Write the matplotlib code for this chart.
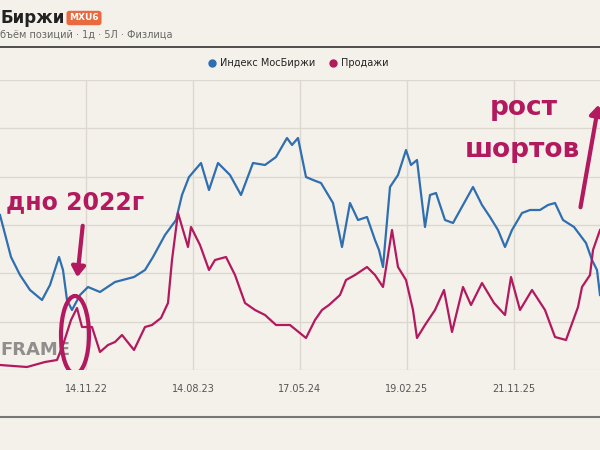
import matplotlib
matplotlib.use("Agg")
import matplotlib.pyplot as plt
from matplotlib.patches import Ellipse
from matplotlib.lines import Line2D

blue_x = [0,11,20,30,42,50,59,63,67,72,80,88,100,115,134,145,153,165,176,182,189,201,209,218,230,241,253,265,276,287,292,298,306,313,321,333,342,350,358,367,375,379,383,390,398,406,411,417,425,430,436,445,453,463,473,482,490,498,505,512,522,530,540,548,555,563,574,586,592,597,600]
blue_v = [155,113,95,80,70,85,113,100,70,60,75,83,78,88,93,100,113,135,150,175,193,207,180,207,195,175,207,205,213,232,225,232,193,190,187,167,123,167,150,153,130,120,103,183,195,220,205,210,143,175,177,150,147,165,183,165,153,140,123,140,157,160,160,165,167,150,143,127,110,100,75]
red_x = [0,27,45,57,63,71,77,82,92,100,108,115,122,134,145,152,161,168,172,178,183,188,191,200,209,215,226,235,245,255,265,276,290,306,315,322,329,340,346,355,367,375,383,392,398,406,413,417,425,435,444,452,463,471,482,494,505,511,520,532,545,555,566,578,582,590,593,600]
red_v = [5,3,8,10,25,50,62,43,43,18,25,28,35,20,43,45,52,67,110,157,140,123,143,125,100,110,113,95,67,60,55,45,45,32,50,60,65,75,90,95,103,95,83,140,103,90,60,32,45,60,80,38,83,65,87,67,55,93,60,80,60,33,30,63,83,95,120,140]
tick_pos = [86,193,300,407,514]
tick_labels = ["14.11.22","14.08.23","17.05.24","19.02.25","21.11.25"]

BG = "#f4f1eb"; BLUE = "#2f6fb0"; RED = "#b3195e"
fig = plt.figure(figsize=(6,4.5), dpi=100, facecolor=BG)
ax = fig.add_axes([0, (450-370)/450, 1, 290/450], facecolor=BG)
ax.plot(blue_x, blue_v, color=BLUE, lw=1.6, zorder=3)
ax.plot(red_x, red_v, color=RED, lw=1.6, zorder=3)
ax.set_xlim(0,600); ax.set_ylim(0,290)
ax.set_xticks(tick_pos); ax.set_xticklabels(tick_labels, fontsize=7, color="#555")
ax.set_yticks([0,48.3,96.7,145,193.3,241.7,290])
ax.tick_params(axis='y', left=False, labelleft=False)
ax.tick_params(axis='x', length=0, pad=10)
ax.grid(True, color="#dcd8d0", lw=1)
for s in ax.spines.values(): s.set_visible(False)

ax.text(0,15,"FRAME",fontsize=13,fontweight="bold",color="#777",alpha=0.8,zorder=2)
ax.text(75,168,"дно 2022г",fontsize=17,fontweight="bold",color=RED,ha="center",va="center",zorder=5)
ax.annotate("",xy=(77,90),xytext=(83,147),arrowprops=dict(arrowstyle="-|>,head_width=0.4,head_length=0.6",color=RED,lw=3),zorder=5)
ax.add_patch(Ellipse((75,35),28,78,fill=False,ec=RED,lw=3,zorder=5))
ax.text(524,262,"рост",fontsize=19,fontweight="bold",color=RED,ha="center",va="center",zorder=5)
ax.text(522,220,"шортов",fontsize=19,fontweight="bold",color=RED,ha="center",va="center",zorder=5)
ax.annotate("",xy=(599,268),xytext=(580,160),arrowprops=dict(arrowstyle="-|>,head_width=0.4,head_length=0.6",color=RED,lw=3),zorder=5)

# header
fig.text(0,1-18/450,"Биржи",fontsize=12,fontweight="bold",color="#222",va="center")
fig.text(84/600,1-18/450,"MXU6",fontsize=6.5,fontweight="bold",color="white",ha="center",va="center",
         bbox=dict(boxstyle="round,pad=0.3",fc="#ea6a3f",ec="none"))
fig.text(0,1-35/450,"бъём позиций · 1д · 5Л · Физлица",fontsize=7,color="#666",va="center")
fig.add_artist(Line2D([0,1],[1-47/450]*2,color="#333",lw=1.2))
fig.add_artist(Line2D([212/600],[1-63/450],marker="o",ms=5,color=BLUE,lw=0))
fig.text(220/600,1-63/450,"Индекс МосБиржи",fontsize=7,color="#222",va="center")
fig.add_artist(Line2D([333/600],[1-63/450],marker="o",ms=5,color=RED,lw=0))
fig.text(341/600,1-63/450,"Продажи",fontsize=7,color="#222",va="center")
fig.add_artist(Line2D([0,1],[1-417/450]*2,color="#777",lw=1.5))
fig.savefig("out.png",dpi=100,facecolor=BG)
